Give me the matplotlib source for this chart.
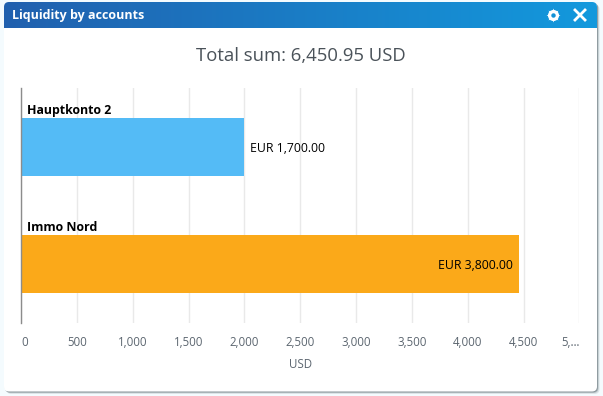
import matplotlib
matplotlib.use('Agg')
import matplotlib.pyplot as plt
import matplotlib.patches as mpatches
from matplotlib.colors import LinearSegmentedColormap
import numpy as np

# data
accounts = ['Hauptkonto 2', 'Immo Nord']
usd_values = [2000, 4457]
bar_labels = ['EUR 1,700.00', 'EUR 3,800.00']
bar_colors = ['#54bbf6', '#fba919']
x_ticks = [0, 500, 1000, 1500, 2000, 2500, 3000, 3500, 4000, 4500, 5000]
x_ticklabels = ['0', '500', '1,000', '1,500', '2,000', '2,500', '3,000', '3,500', '4,000', '4,500', '5,…']
panel_title = 'Liquidity by accounts'
chart_title = 'Total sum: 6,450.95 USD'
x_title = 'USD'

W, H = 603, 396
plt.rcParams['font.family'] = ['Open Sans', 'DejaVu Sans']

fig = plt.figure(figsize=(W / 100, H / 100), dpi=100, facecolor='#f4fbfe')

# =============================================================================
# Panel chrome, in pixel coordinates
# =============================================================================
bg = fig.add_axes([0, 0, 1, 1])
bg.set_xlim(0, W)
bg.set_ylim(H, 0)
bg.axis('off')

for off, alpha in [(2.5, 0.15), (1.5, 0.3), (0.8, 0.5)]:
    bg.add_patch(mpatches.FancyBboxPatch((4 + off, 2 + off), 593, 389.5,
                 boxstyle='round,pad=0,rounding_size=5', fc='#5a6a70', ec='none', alpha=alpha))
panel = mpatches.FancyBboxPatch((4, 2), 593, 389.5, boxstyle='round,pad=0,rounding_size=5',
                                fc='white', ec='none')
bg.add_patch(panel)

header_cmap = LinearSegmentedColormap.from_list('header', ['#2160ae', '#1399dd'])
grad = bg.imshow(np.linspace(0, 1, 256).reshape(1, -1), extent=(4, 597, 28, 2), cmap=header_cmap,
                 aspect='auto', zorder=2)
grad.set_clip_path(panel)
bg.set_xlim(0, W)
bg.set_ylim(H, 0)

bg.text(12.5, 15.5, panel_title, color='white', fontsize=9, fontweight='bold', va='center', ha='left', zorder=3)
bg.text(301, 56, chart_title, color='#4a5259', fontsize=13.3, va='center', ha='center', zorder=3)

# gear and close icons
bg.plot(553, 15, marker=(8, 1, 0), ms=10, color='white', mew=0, zorder=3)
bg.plot(553, 15, marker='o', ms=8, color='white', mew=0, zorder=3)
bg.plot(553, 15, marker='o', ms=3.2, color='#1391d6', mew=0, zorder=4)
bg.plot([575, 585], [10, 20], color='white', lw=2, zorder=3)
bg.plot([575, 585], [20, 10], color='white', lw=2, zorder=3)

# =============================================================================
# Chart
# =============================================================================
left, right, top, bottom = 21, 579.5, 88, 323
ax = fig.add_axes([left / W, 1 - bottom / H, (right - left) / W, (bottom - top) / H])
ax.patch.set_alpha(0)

y = np.arange(len(accounts))
ax.barh(y, usd_values, height=0.496, color=bar_colors, linewidth=0, zorder=2)
ax.set_xlim(0, 5000)
ax.set_ylim(1.504, -0.504)

ax.set_xticks(x_ticks)
ax.set_xticklabels(x_ticklabels, fontsize=8.3, color='#5c6670')
ax.get_xticklabels()[0].set_ha('left')
ax.get_xticklabels()[-1].set_ha('right')
ax.tick_params(axis='x', length=0, pad=9)
ax.set_yticks([])
ax.grid(axis='x', color='#e9e9e9', lw=1, zorder=1)
ax.set_xlabel(x_title, fontsize=8.3, color='#5c6670', labelpad=7)

for s in ['top', 'right', 'bottom']:
    ax.spines[s].set_visible(False)
ax.spines['left'].set_color('#8c8c8c')
ax.spines['left'].set_linewidth(1)
ax.spines['left'].set_zorder(3)

for i, name in enumerate(accounts):
    ax.annotate(name, (0, y[i] - 0.248), xytext=(4.5, 1), textcoords='offset points', fontsize=8.9,
                fontweight='bold', color='black', va='bottom', ha='left', zorder=4)

# first label sits outside its bar, second inside
ax.annotate(bar_labels[0], (usd_values[0], y[0]), xytext=(4, -1), textcoords='offset points',
            fontsize=8.8, color='black', va='center', ha='left', zorder=4)
ax.annotate(bar_labels[1], (usd_values[1], y[1]), xytext=(-4, -1), textcoords='offset points',
            fontsize=8.8, color='black', va='center', ha='right', zorder=4)

plt.savefig('out.png', dpi=100, facecolor=fig.get_facecolor())
